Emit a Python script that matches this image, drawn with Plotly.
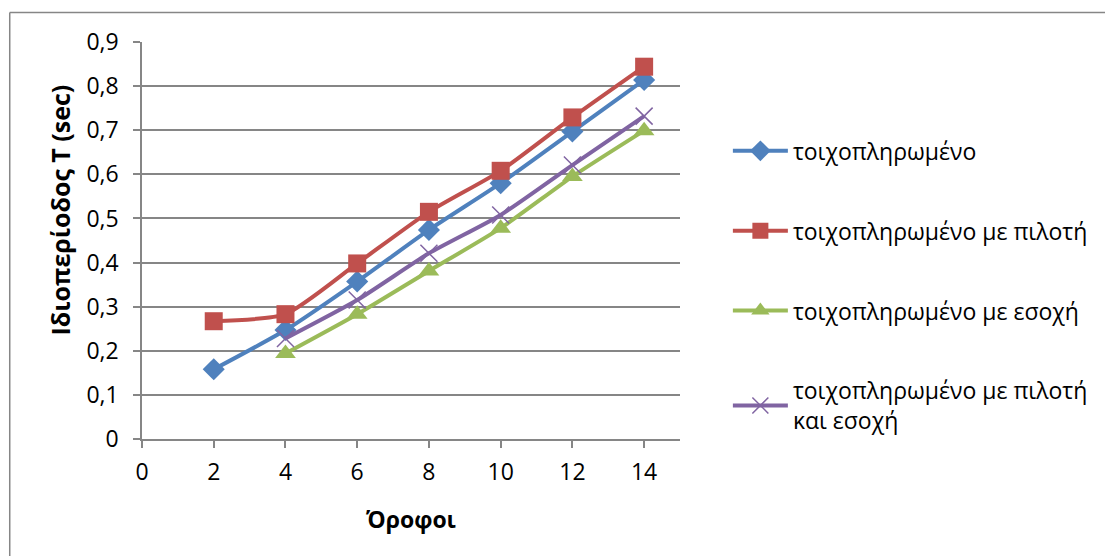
import plotly.graph_objects as go

floors_a = [2, 4, 6, 8, 10, 12, 14]
floors_b = [4, 6, 8, 10, 12, 14]

t_full = [0.158, 0.247, 0.357, 0.474, 0.580, 0.697, 0.814]
t_pilot = [0.267, 0.283, 0.398, 0.515, 0.608, 0.729, 0.844]
t_recess = [0.194, 0.283, 0.381, 0.478, 0.595, 0.699]
t_pilot_recess = [0.228, 0.315, 0.421, 0.508, 0.621, 0.732]

names = ["τοιχοπληρωμένο", "τοιχοπληρωμένο με πιλοτή",
         "τοιχοπληρωμένο με εσοχή", "τοιχοπληρωμένο με πιλοτή<br>και εσοχή"]

x_ticks = [0, 2, 4, 6, 8, 10, 12, 14]
y_ticks = [0, 0.1, 0.2, 0.3, 0.4, 0.5, 0.6, 0.7, 0.8, 0.9]
y_labels = ["0", "0,1", "0,2", "0,3", "0,4", "0,5", "0,6", "0,7", "0,8", "0,9"]
x_title = "Όροφοι"
y_title = "Ιδιοπερίοδος T (sec)"

FONT = "Open Sans"
fig = go.Figure()
fig.add_trace(go.Scatter(x=floors_a, y=t_full, name=names[0], mode="lines+markers", legendgroup="a",
                         line=dict(color="#4F81BD", width=4, shape="spline", smoothing=0.6),
                         marker=dict(symbol="diamond", size=17, color="#4F81BD")))
fig.add_trace(go.Scatter(x=floors_a, y=t_pilot, name=names[1], mode="lines+markers", legendgroup="b",
                         line=dict(color="#C0504D", width=4, shape="spline", smoothing=0.6),
                         marker=dict(symbol="square", size=18, color="#C0504D")))
fig.add_trace(go.Scatter(x=floors_b, y=t_recess, name=names[2], mode="lines+markers", legendgroup="c",
                         line=dict(color="#9BBB59", width=4, shape="spline", smoothing=0.6),
                         marker=dict(symbol="triangle-up", size=18, color="#9BBB59")))
fig.add_trace(go.Scatter(x=floors_b, y=t_pilot_recess, name=names[3], mode="lines+markers", legendgroup="d",
                         line=dict(color="#8064A2", width=4, shape="spline", smoothing=0.6),
                         marker=dict(symbol="x-thin", size=17, color="#8064A2",
                                     line=dict(color="#8064A2", width=1.5))))

fig.update_layout(
    width=1105, height=556,
    margin=dict(l=142, r=422, t=42, b=117),
    paper_bgcolor="white", plot_bgcolor="white",
    font=dict(family=FONT, size=23, color="black"),
    showlegend=True,
    legend=dict(x=1.089, y=0.78, xanchor="left", yanchor="top",
                font=dict(family=FONT, size=23, color="black"),
                tracegroupgap=47, itemwidth=55, bgcolor="rgba(0,0,0,0)"),
    xaxis=dict(range=[0, 15], tickvals=x_ticks, ticktext=[str(v) for v in x_ticks],
               showgrid=False, zeroline=False, showline=True, linecolor="#868686", linewidth=1.5,
               ticks="outside", ticklen=7, tickcolor="#868686", tickwidth=1.5,
               ticklabelstandoff=5, tickfont=dict(size=23),
               title=dict(text="<b>" + x_title + "</b>", font=dict(family=FONT, size=23), standoff=26)),
    yaxis=dict(range=[0, 0.9], tickvals=y_ticks, ticktext=y_labels,
               showgrid=True, gridcolor="#868686", gridwidth=1.5, zeroline=False,
               showline=True, linecolor="#868686", linewidth=1.5,
               ticks="outside", ticklen=7, tickcolor="#868686", tickwidth=1.5,
               ticklabelstandoff=10, tickfont=dict(size=23)),
)

# y-axis title placed like the original (above the plot's vertical centre)
fig.add_annotation(text="<b>" + y_title + "</b>", textangle=-90, showarrow=False,
                   xref="paper", yref="paper", x=(60 - 142) / 541, y=(439 - 210) / 397,
                   xanchor="center", yanchor="middle",
                   font=dict(family=FONT, size=25, color="black"))

# outer chart border (left and top edges visible)
x_left = (9 - 142) / 541
y_top = (439 - 12.5) / 397
fig.add_shape(type="line", xref="paper", yref="paper", x0=x_left, x1=x_left, y0=y_top, y1=-0.4,
              line=dict(color="#868686", width=1.5))
fig.add_shape(type="line", xref="paper", yref="paper", x0=x_left, x1=2.2, y0=y_top, y1=y_top,
              line=dict(color="#868686", width=1.5))

fig.write_html("out.html")
